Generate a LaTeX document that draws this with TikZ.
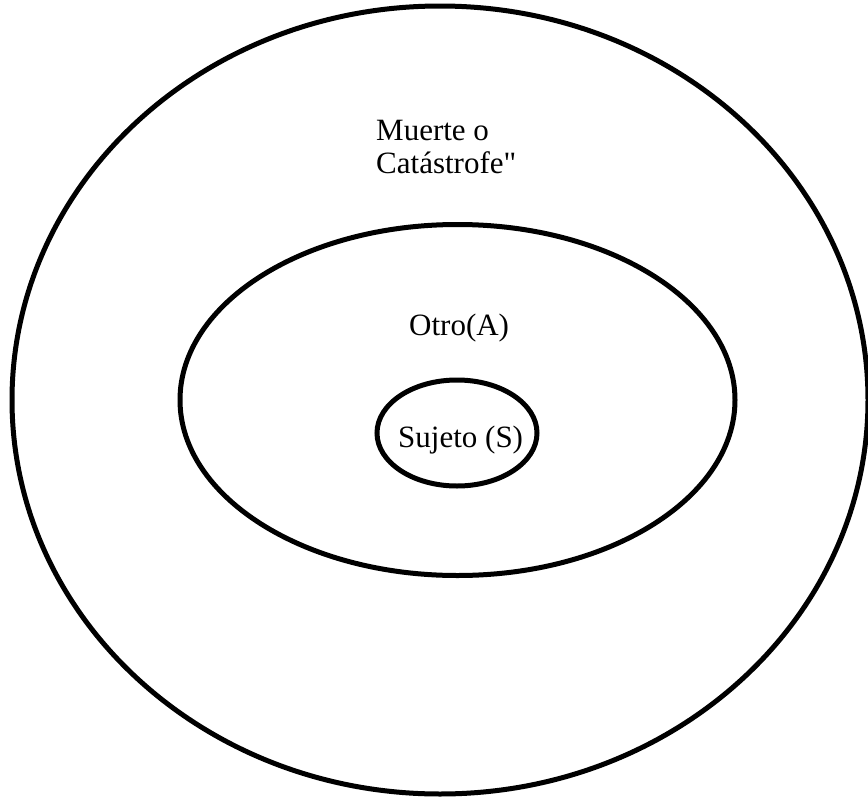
\documentclass[tikz,border=0pt]{standalone}
\usepackage{fontspec}
\setmainfont{Liberation Serif}
\usetikzlibrary{shapes.geometric}
\begin{document}
\begin{tikzpicture}[x=1pt,y=-1pt,
  ring/.style={draw=black,line width=5pt,ellipse,inner sep=0pt},
  lbl/.style={anchor=base west,inner sep=0pt,font=\fontsize{31}{33}\selectfont}]
\useasboundingbox[fill=white] (0,0) rectangle (868,798);
\node[ring,minimum width=856pt,minimum height=788pt] (outer) at (440,400) {};
\node[ring,minimum width=555pt,minimum height=351pt] (middle) at (457.5,400) {};
\node[ring,minimum width=160pt,minimum height=106pt] (inner) at (457,433) {};
\node[lbl] (muerte) at (376,140) {Muerte o};
\node[lbl] (catas) at (376,173) {Catástrofe\textquotedbl};
\node[lbl] (otro) at (409,335) {Otro(A)};
\node[lbl] (sujeto) at (398,447) {Sujeto (S)};
\end{tikzpicture}
\end{document}
